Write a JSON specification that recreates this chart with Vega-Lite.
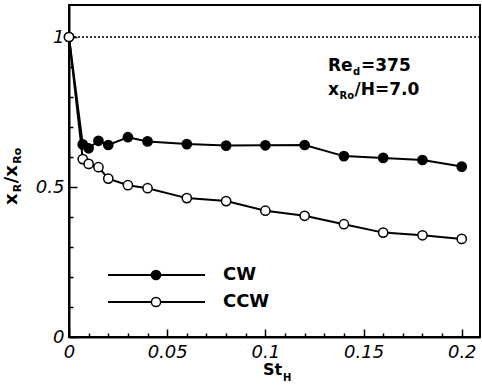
{
  "$schema": "https://vega.github.io/schema/vega-lite/v6.json",
  "width": 411,
  "height": 332,
  "autosize": "none",
  "padding": {"left": 69, "right": 2, "top": 5, "bottom": 51},
  "background": "white",
  "config": {
    "view": {"stroke": "black", "strokeWidth": 2},
    "axis": {
      "grid": false,
      "domainColor": "black",
      "domainWidth": 2,
      "tickColor": "black",
      "tickWidth": 1.5,
      "labelColor": "black",
      "labelFont": "DejaVu Sans",
      "labelFontStyle": "italic",
      "labelFontSize": 18,
      "labelFlush": false,
      "labelOverlap": false
    },
    "text": {"font": "DejaVu Sans", "fontWeight": "bold", "color": "black"}
  },
  "datasets": {
    "measurements": [
      {"series": "CW", "St": 0, "ratio": 1.0},
      {"series": "CW", "St": 0.007, "ratio": 0.642},
      {"series": "CW", "St": 0.01, "ratio": 0.629},
      {"series": "CW", "St": 0.015, "ratio": 0.654},
      {"series": "CW", "St": 0.02, "ratio": 0.64},
      {"series": "CW", "St": 0.03, "ratio": 0.666},
      {"series": "CW", "St": 0.04, "ratio": 0.652},
      {"series": "CW", "St": 0.06, "ratio": 0.643},
      {"series": "CW", "St": 0.08, "ratio": 0.638},
      {"series": "CW", "St": 0.1, "ratio": 0.639},
      {"series": "CW", "St": 0.12, "ratio": 0.64},
      {"series": "CW", "St": 0.14, "ratio": 0.603},
      {"series": "CW", "St": 0.16, "ratio": 0.597},
      {"series": "CW", "St": 0.18, "ratio": 0.59},
      {"series": "CW", "St": 0.2, "ratio": 0.568},
      {"series": "CCW", "St": 0, "ratio": 1.0},
      {"series": "CCW", "St": 0.007, "ratio": 0.593},
      {"series": "CCW", "St": 0.01, "ratio": 0.577},
      {"series": "CCW", "St": 0.015, "ratio": 0.566},
      {"series": "CCW", "St": 0.02, "ratio": 0.528},
      {"series": "CCW", "St": 0.03, "ratio": 0.506},
      {"series": "CCW", "St": 0.04, "ratio": 0.496},
      {"series": "CCW", "St": 0.06, "ratio": 0.463},
      {"series": "CCW", "St": 0.08, "ratio": 0.453},
      {"series": "CCW", "St": 0.1, "ratio": 0.421},
      {"series": "CCW", "St": 0.12, "ratio": 0.404},
      {"series": "CCW", "St": 0.14, "ratio": 0.376},
      {"series": "CCW", "St": 0.16, "ratio": 0.348},
      {"series": "CCW", "St": 0.18, "ratio": 0.339},
      {"series": "CCW", "St": 0.2, "ratio": 0.327}
    ]
  },
  "resolve": {"axis": {"x": "independent", "y": "independent"}},
  "layer": [
    {
      "data": {"name": "measurements"},
      "mark": {"type": "line", "color": "black", "strokeWidth": 2},
      "encoding": {
        "x": {"field": "St", "type": "quantitative",
              "scale": {"domain": [0, 0.2093], "nice": false, "zero": false},
              "axis": {"orient": "bottom", "title": null, "labels": false, "domain": false, "tickSize": -4,
                       "values": [0.01,0.02,0.03,0.04,0.06,0.07,0.08,0.09,0.11,0.12,0.13,0.14,0.16,0.17,0.18,0.19]}},
        "y": {"field": "ratio", "type": "quantitative",
              "scale": {"domain": [0, 1.1067], "nice": false, "zero": false},
              "axis": {"orient": "left", "title": null, "labels": false, "domain": false, "tickSize": -4,
                       "values": [0.1,0.2,0.3,0.4,0.6,0.7,0.8,0.9]}},
        "detail": {"field": "series", "type": "nominal"},
        "order": {"field": "St", "type": "quantitative"}
      }
    },
    {
      "data": {"values": [{}]},
      "mark": {"type": "rule", "color": "black", "strokeWidth": 1.5, "strokeDash": [2, 2]},
      "encoding": {
        "y": {"datum": 1, "type": "quantitative", "axis": null}
      }
    },
    {
      "data": {"name": "measurements"},
      "mark": {"type": "point", "shape": "circle", "filled": true, "size": 85, "stroke": "black", "strokeWidth": 1.5, "opacity": 1},
      "encoding": {
        "x": {"field": "St", "type": "quantitative",
              "axis": {"orient": "bottom", "title": null, "tickSize": -8, "labelPadding": 14, "format": "~g",
                       "values": [0, 0.05, 0.1, 0.15, 0.2]}},
        "y": {"field": "ratio", "type": "quantitative",
              "axis": {"orient": "left", "title": null, "tickSize": -8, "labelPadding": 13, "format": "~g",
                       "values": [0, 0.5, 1]}},
        "fill": {"field": "series", "type": "nominal",
                 "scale": {"domain": ["CW", "CCW"], "range": ["black", "white"]}, "legend": null}
      }
    },
    {
      "data": {"values": [{}]},
      "mark": {"type": "rule", "color": "black", "strokeWidth": 2},
      "encoding": {
        "x": {"datum": 0.01986, "type": "quantitative", "axis": null},
        "x2": {"datum": 0.06926},
        "y": {"datum": 0.2067, "type": "quantitative", "axis": null}
      }
    },
    {
      "data": {"values": [{}]},
      "mark": {"type": "rule", "color": "black", "strokeWidth": 2},
      "encoding": {
        "x": {"datum": 0.01986, "type": "quantitative", "axis": null},
        "x2": {"datum": 0.06926},
        "y": {"datum": 0.1167, "type": "quantitative", "axis": null}
      }
    },
    {
      "data": {"values": [{}]},
      "mark": {"type": "point", "shape": "circle", "filled": true, "fill": "black", "size": 85, "stroke": "black", "strokeWidth": 1.5, "opacity": 1},
      "encoding": {
        "x": {"datum": 0.0443, "type": "quantitative", "axis": null},
        "y": {"datum": 0.2067, "type": "quantitative", "axis": null}
      }
    },
    {
      "data": {"values": [{}]},
      "mark": {"type": "point", "shape": "circle", "filled": true, "fill": "white", "size": 85, "stroke": "black", "strokeWidth": 1.5, "opacity": 1},
      "encoding": {
        "x": {"datum": 0.0443, "type": "quantitative", "axis": null},
        "y": {"datum": 0.1167, "type": "quantitative", "axis": null}
      }
    },
    {
      "data": {"values": [{}]},
      "mark": {"type": "text", "text": "CW", "fontSize": 18, "align": "left", "baseline": "middle"},
      "encoding": {
        "x": {"datum": 0.0784, "type": "quantitative", "axis": null},
        "y": {"datum": 0.2067, "type": "quantitative", "axis": null}
      }
    },
    {
      "data": {"values": [{}]},
      "mark": {"type": "text", "text": "CCW", "fontSize": 18, "align": "left", "baseline": "middle"},
      "encoding": {
        "x": {"datum": 0.0784, "type": "quantitative", "axis": null},
        "y": {"datum": 0.1167, "type": "quantitative", "axis": null}
      }
    },
    {
      "data": {"values": [{}]},
      "mark": {"type": "text", "text": "Re", "fontSize": 17, "align": "left", "baseline": "alphabetic"},
      "encoding": {
        "x": {"datum": 0.1319, "type": "quantitative", "axis": null},
        "y": {"datum": 0.8867, "type": "quantitative", "axis": null}
      }
    },
    {
      "data": {"values": [{}]},
      "mark": {"type": "text", "text": "d", "fontSize": 10, "align": "left", "baseline": "alphabetic", "dx": 25, "dy": 4},
      "encoding": {
        "x": {"datum": 0.1319, "type": "quantitative", "axis": null},
        "y": {"datum": 0.8867, "type": "quantitative", "axis": null}
      }
    },
    {
      "data": {"values": [{}]},
      "mark": {"type": "text", "text": "=375", "fontSize": 17, "align": "left", "baseline": "alphabetic", "dx": 33},
      "encoding": {
        "x": {"datum": 0.1319, "type": "quantitative", "axis": null},
        "y": {"datum": 0.8867, "type": "quantitative", "axis": null}
      }
    },
    {
      "data": {"values": [{}]},
      "mark": {"type": "text", "text": "x", "fontSize": 17, "align": "left", "baseline": "alphabetic"},
      "encoding": {
        "x": {"datum": 0.1319, "type": "quantitative", "axis": null},
        "y": {"datum": 0.8067, "type": "quantitative", "axis": null}
      }
    },
    {
      "data": {"values": [{}]},
      "mark": {"type": "text", "text": "Ro", "fontSize": 10, "align": "left", "baseline": "alphabetic", "dx": 11.5, "dy": 4},
      "encoding": {
        "x": {"datum": 0.1319, "type": "quantitative", "axis": null},
        "y": {"datum": 0.8067, "type": "quantitative", "axis": null}
      }
    },
    {
      "data": {"values": [{}]},
      "mark": {"type": "text", "text": "/H=7.0", "fontSize": 17, "align": "left", "baseline": "alphabetic", "dx": 26.5},
      "encoding": {
        "x": {"datum": 0.1319, "type": "quantitative", "axis": null},
        "y": {"datum": 0.8067, "type": "quantitative", "axis": null}
      }
    },
    {
      "data": {"values": [{}]},
      "mark": {"type": "text", "text": "St", "fontSize": 16, "align": "left", "baseline": "alphabetic"},
      "encoding": {
        "x": {"datum": 0.0988, "type": "quantitative", "axis": null},
        "y": {"datum": -0.1267, "type": "quantitative", "axis": null}
      }
    },
    {
      "data": {"values": [{}]},
      "mark": {"type": "text", "text": "H", "fontSize": 10, "align": "left", "baseline": "alphabetic", "dx": 20, "dy": 6},
      "encoding": {
        "x": {"datum": 0.0988, "type": "quantitative", "axis": null},
        "y": {"datum": -0.1267, "type": "quantitative", "axis": null}
      }
    },
    {
      "data": {"values": [{}]},
      "mark": {"type": "text", "text": "x", "fontSize": 18, "align": "left", "baseline": "alphabetic", "angle": 270},
      "encoding": {
        "x": {"datum": -0.02648, "type": "quantitative", "axis": null},
        "y": {"datum": 0.44, "type": "quantitative", "axis": null}
      }
    },
    {
      "data": {"values": [{}]},
      "mark": {"type": "text", "text": "R", "fontSize": 11, "align": "left", "baseline": "alphabetic", "angle": 270, "dx": 12.8, "dy": 4},
      "encoding": {
        "x": {"datum": -0.02648, "type": "quantitative", "axis": null},
        "y": {"datum": 0.44, "type": "quantitative", "axis": null}
      }
    },
    {
      "data": {"values": [{}]},
      "mark": {"type": "text", "text": "/x", "fontSize": 18, "align": "left", "baseline": "alphabetic", "angle": 270, "dx": 21.8},
      "encoding": {
        "x": {"datum": -0.02648, "type": "quantitative", "axis": null},
        "y": {"datum": 0.44, "type": "quantitative", "axis": null}
      }
    },
    {
      "data": {"values": [{}]},
      "mark": {"type": "text", "text": "Ro", "fontSize": 11, "align": "left", "baseline": "alphabetic", "angle": 270, "dx": 41.2, "dy": 4},
      "encoding": {
        "x": {"datum": -0.02648, "type": "quantitative", "axis": null},
        "y": {"datum": 0.44, "type": "quantitative", "axis": null}
      }
    }
  ]
}
